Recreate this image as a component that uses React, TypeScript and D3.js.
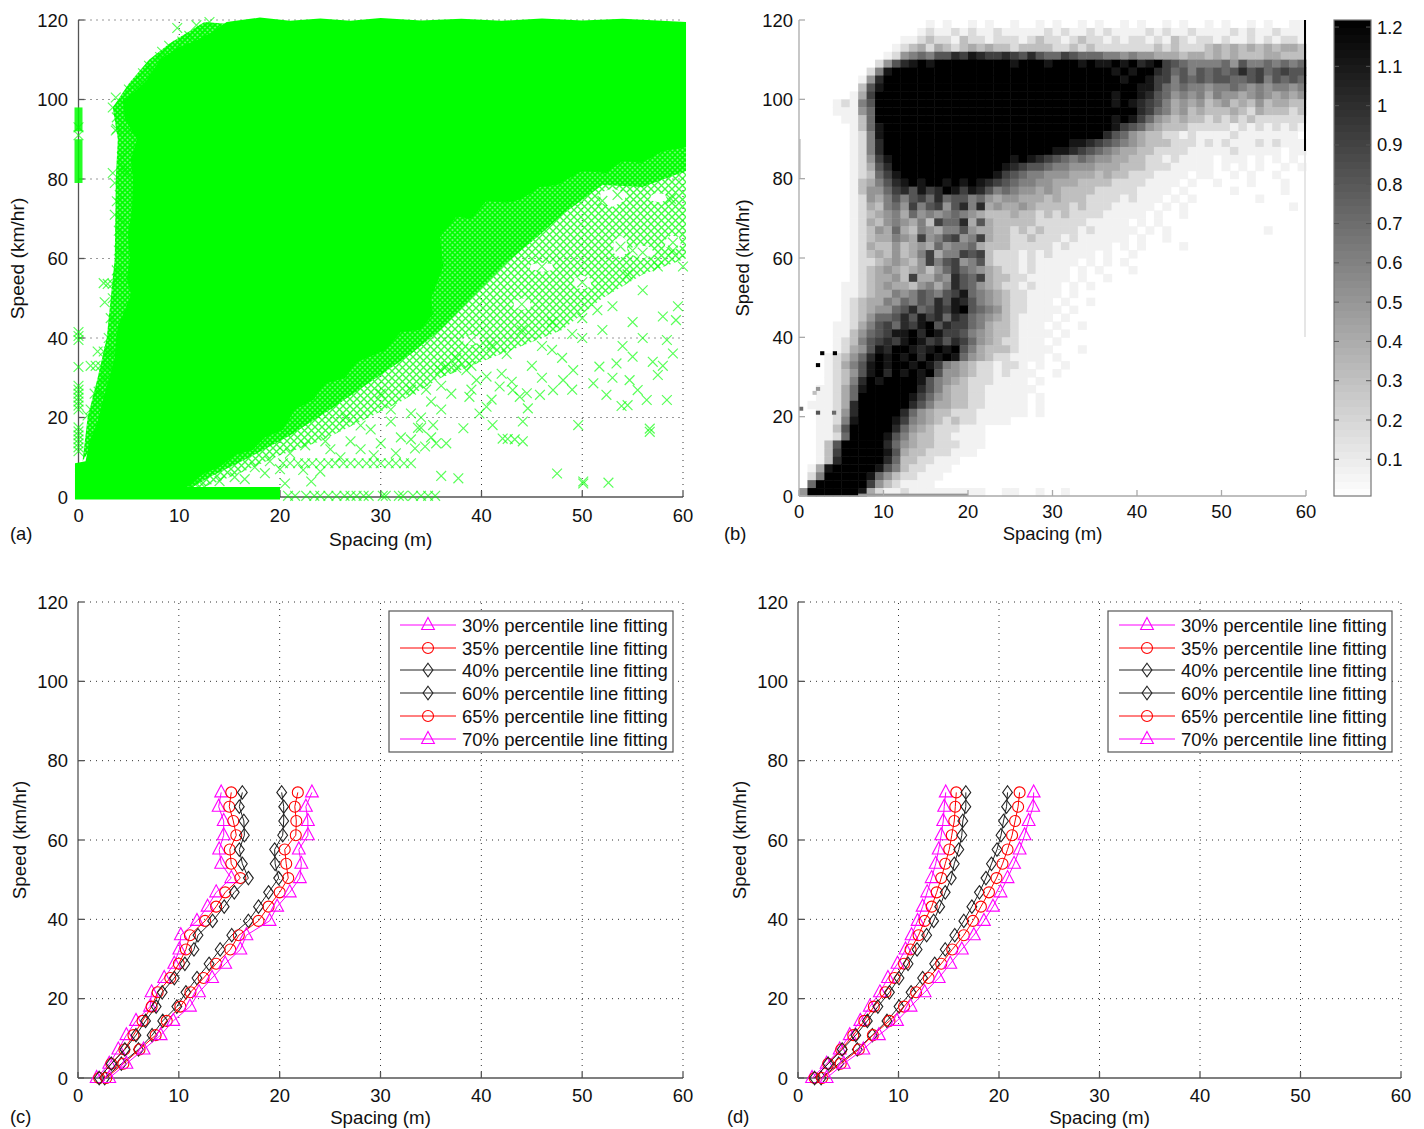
import React from "react";
import * as d3 from "d3";

// ---- data ----
const SPEEDS = [72, 68.4, 64.8, 61.2, 57.6, 54, 50.4, 46.8, 43.2, 39.6, 36, 32.4, 28.8, 25.2, 21.6, 18, 14.4, 10.8, 7.2, 3.6, 0];
const X_TICKS = [0, 10, 20, 30, 40, 50, 60];
const Y_TICKS = [0, 20, 40, 60, 80, 100, 120];
const LEGEND_LABELS = ["30%", "35%", "40%", "60%", "65%", "70%"];
const CBAR_TICKS = [1.2, 1.1, 1, 0.9, 0.8, 0.7, 0.6, 0.5, 0.4, 0.3, 0.2, 0.1];

const C_P30 = [14.2, 13.95, 14.45, 14.45, 14.0, 14.2, 15.2, 13.7, 12.85, 11.8, 10.2, 10.05, 9.55, 8.55, 7.3, 7.15, 5.75, 4.8, 4.0, 3.1, 1.85];
const C_P35 = [15.2, 15.0, 15.4, 15.7, 15.05, 15.2, 16.1, 14.6, 13.7, 12.6, 11.1, 10.7, 10.0, 9.15, 7.9, 7.3, 6.4, 5.5, 4.6, 3.3, 2.1];
const C_P40 = [16.3, 16.0, 16.45, 16.5, 16.0, 16.3, 16.9, 15.5, 14.5, 13.35, 11.9, 11.5, 10.6, 9.55, 8.35, 7.75, 6.7, 5.75, 4.65, 3.3, 2.1];
const C_P60 = [20.2, 20.4, 20.4, 20.3, 19.5, 19.55, 19.9, 18.9, 17.9, 16.9, 15.25, 14.1, 13.0, 11.8, 10.7, 9.8, 8.4, 7.35, 6.0, 4.3, 2.65];
const C_P65 = [21.8, 21.5, 21.65, 21.6, 20.5, 20.65, 20.85, 20.0, 18.9, 17.9, 15.95, 15.1, 13.7, 12.45, 11.15, 10.15, 8.8, 7.7, 6.1, 4.5, 2.8];
const C_P70 = [23.2, 22.6, 22.8, 22.8, 21.9, 22.15, 22.0, 21.0, 19.75, 19.0, 16.7, 16.1, 14.6, 13.3, 12.0, 11.1, 9.45, 8.2, 6.5, 4.8, 3.1];

const D_P30 = [14.7, 14.55, 14.45, 14.25, 14.0, 13.7, 13.3, 12.85, 12.4, 11.9, 11.3, 10.7, 9.9, 8.95, 8.15, 7.15, 6.2, 5.15, 4.15, 2.85, 1.4];
const D_P35 = [15.75, 15.65, 15.55, 15.3, 15.05, 14.65, 14.25, 13.8, 13.3, 12.6, 12.0, 11.2, 10.55, 9.6, 8.7, 7.55, 6.6, 5.5, 4.3, 3.0, 1.65];
const D_P40 = [16.7, 16.7, 16.4, 16.3, 16.0, 15.55, 15.25, 14.65, 14.1, 13.5, 12.8, 11.85, 10.95, 10.05, 9.1, 7.95, 6.9, 5.75, 4.4, 3.0, 1.65];
const D_P60 = [20.85, 20.75, 20.45, 20.2, 19.8, 19.25, 18.7, 18.05, 17.3, 16.5, 15.6, 14.65, 13.6, 12.4, 11.25, 10.05, 8.85, 7.4, 5.9, 4.05, 2.3];
const D_P65 = [22.05, 21.9, 21.6, 21.3, 20.85, 20.35, 19.75, 19.0, 18.2, 17.4, 16.5, 15.35, 14.25, 13.0, 11.75, 10.55, 9.1, 7.45, 6.05, 4.25, 2.4];
const D_P70 = [23.45, 23.4, 22.95, 22.55, 22.05, 21.5, 20.85, 20.15, 19.4, 18.5, 17.5, 16.3, 15.15, 14.0, 12.6, 11.2, 9.85, 8.05, 6.5, 4.55, 2.85];

// scatter (a): saturated mass, hatched bands, then the loose points
const MASS_OUTLINE = [[-0.35, -0.6], [-0.35, 8.5], [0.7, 9], [1.1, 14], [1.9, 19], [2.4, 24], [2.9, 28.7], [3.6, 35], [3.7, 39], [3.9, 43], [4.6, 47], [5.2, 51], [4.8, 55], [5.1, 60], [4.9, 66], [5.3, 72], [5.4, 80], [5.2, 85], [5.8, 90], [4.6, 95], [4.4, 100], [5.6, 102], [6.8, 105], [8.1, 110], [9.8, 113], [11.6, 114.8], [13.3, 117], [14.7, 119.5], [18, 120.6], [21, 119.8], [24, 120.4], [27, 119.8], [30, 120.5], [34, 119.9], [38, 120.3], [42, 119.8], [46, 120.4], [50, 119.9], [54, 120.3], [60.3, 119.5], [60.3, 88], [58, 87], [55.9, 84], [54, 84.5], [52.4, 81.5], [50, 82], [47.5, 78.5], [45.8, 78], [44, 75], [42.5, 74], [40.5, 74.5], [39, 70], [37.5, 70.5], [35.9, 65.4], [36.2, 58], [35, 50], [35.2, 46], [33.9, 42], [32, 41.5], [30.5, 37], [27.6, 33.9], [26.5, 30], [24.5, 28.5], [23.3, 24.4], [21.5, 22], [20.3, 16.9], [18.5, 15], [17.3, 11.8], [15.5, 10.5], [14, 7.5], [12.5, 6], [10.8, 2.5], [20, 2.5], [20, -0.6]];
const DENSE_BAND = [[60.3, 90], [60.3, 82], [56, 78], [52, 78.5], [48, 71], [45.8, 66], [42.5, 59], [39.1, 50.3], [35.9, 42], [33, 36], [29, 29], [25, 22], [21, 15.5], [17, 10], [13, 5], [11, 2], [10, 8], [25, 45], [30, 50], [40, 85], [50, 95]];
const SPARSE_BAND = [[60.3, 90], [60.3, 60], [56, 56], [52, 50], [48, 42], [44, 38], [40, 34], [36, 30], [32, 24], [28, 19], [24, 14], [20, 10.5], [16, 6], [13, 3], [11, 1.5], [10, 8], [25, 45], [45, 85]];
const LEFT_BAND = [[0.4, 9], [0.9, 20], [1.9, 30], [2.8, 40], [3.2, 50], [3.6, 60], [3.7, 80], [3.9, 90], [3.4, 98], [5, 104], [7, 110], [9, 114], [12.5, 119.5], [15, 119], [15, 100], [8, 40]];
const SPARSE_GAPS = [
  [[51.8, 74], [53, 73], [54.2, 74.5], [54.4, 76.5], [53, 77.6], [51.8, 76.6]],
  [[54.8, 61], [56, 60], [57.2, 61], [56.8, 62.8], [55.6, 63.4], [54.6, 62.4]],
  [[44.8, 57.4], [46, 56.6], [47.2, 57.2], [47, 58.6], [45.8, 59], [44.9, 58.4]],
  [[56.8, 74.6], [57.8, 74], [58.4, 75], [58.2, 76.2], [57.3, 76.5], [56.8, 75.8]],
  [[58.2, 63], [59.2, 62.2], [59.8, 63.4], [59.6, 65.4], [58.8, 65.8], [58.3, 64.8]],
  [[43.2, 47.8], [44, 47], [44.9, 47.8], [44.8, 49.4], [44, 50], [43.2, 49.2]],
  [[49.2, 53], [50, 52.2], [50.9, 53], [50.8, 55], [50, 55.8], [49.2, 55]],
  [[38.2, 38.8], [39, 38.2], [39.9, 39], [39.7, 40.4], [38.9, 40.8], [38.2, 40]],
  [[53.1, 61.4], [53.8, 60.2], [54.5, 61.6], [54.4, 64.6], [53.8, 65.8], [53.1, 64.4]],
];
const LOOSE_POINTS = [
  [58.4, 24.4], [56.7, 16.4], [56.7, 17.2], [54.5, 23.1], [53.9, 22.9], [55.5, 26.9], [57.5, 30.7], [56.4, 24.4], [54.7, 29.4], [52.4, 25.7], [51.1, 28.6], [49.6, 18.1],
  [52.6, 3.6], [50.1, 3.4], [50.1, 3.9], [47.5, 5.9], [44.1, 19], [44.1, 14], [43.3, 14.5], [42.6, 14.6], [42.1, 14.7], [41.1, 18.1], [37.7, 4.7], [36, 5.3], [35.5, 13.5],
  [33.7, 17.4], [34, 17.4], [44.6, 22.3], [43.8, 25.2], [40.5, 22.7], [39.8, 21], [38.8, 25.2], [36.5, 13.5], [38.2, 17.3], [35.2, 18.1], [33.4, 12.2], [34.4, 12.7], [23.1, 3.9], [24, 6.4], [20.5, 3.4], [22.3, 6.8],
  [58.4, 39.5], [59, 36.1], [59.3, 44.5], [58, 45.4], [55, 35.3], [53.4, 33.6], [51.7, 32.8], [49.1, 31.9], [48.1, 29.4], [47.1, 26.9], [45.8, 25.7], [44.5, 26.1], [43.1, 26.9], [41.8, 27.8], [40.5, 30.3], [39.5, 29.4], [38.5, 31.9], [37.5, 32.4], [36.5, 32.8], [35.9, 31.9],
  [50, 40], [52, 42], [54, 38], [56, 40], [47, 37], [45, 33], [42, 31], [57, 34], [59.5, 48], [55, 44], [48, 35], [46, 30], [43, 29], [53, 30], [58, 33], [49, 27], [41, 24.5], [39, 27], [37, 26], [35, 24], [33, 21], [31, 19], [29, 17], [27, 14], [25, 12], [36, 22], [34, 20], [32, 15], [30, 13.5], [28, 12], [26, 10], [35, 15], [31.5, 11], [29.3, 10.5], [33, 14.5],
  [60, 58], [59, 62], [57.5, 58], [56, 52], [54.5, 56], [53, 48], [51.5, 47], [50, 45], [49, 41], [47, 44], [46, 38], [44, 42], [42.5, 36], [41, 38], [39, 33], [37.5, 35], [36, 28], [34.5, 27], [33, 27], [31, 22], [30, 26], [28, 18], [26.5, 20], [24.5, 14], [22.5, 13], [21, 11], [19, 9], [17.5, 7.5], [15.5, 5], [14, 4], [12.5, 2.5], [11.5, 3.4], [16.5, 4.5], [18.5, 6], [20, 7],
  [52, 74.5], [53.5, 76], [55, 62], [56, 61.5], [46, 58], [58.8, 75], [59, 64], [44, 48.5], [50, 54], [39, 39.5], [53.8, 63],
  [2.9, 35], [3, 40], [3.2, 45], [3.4, 50], [3.9, 55], [4, 62], [4.2, 70], [4.1, 76], [4.5, 83], [4.9, 92], [3.7, 100.5], [5, 102.5], [6, 104], [7, 108.5], [9, 113.5], [11, 116], [12.5, 117.5], [1.5, 15], [1.4, 12.5], [2.2, 22], [2.6, 30],
  [3.4, 98], [3.8, 95.5], [3.8, 92.6], [3.7, 92.2], [4.3, 85.6], [5.2, 88.5], [3.4, 81.5], [3.6, 79], [4.7, 81.5], [3.8, 74.4], [3.6, 71], [4, 67], [3.8, 57], [2.9, 53.6], [2.5, 53.8], [3.4, 53.6], [2.6, 49],
  [1.9, 36.6], [2.5, 36.6], [3, 36.6], [3.5, 36.6], [1.2, 33], [1.7, 33], [2.2, 33], [2.8, 33], [3.3, 33], [1.6, 26], [2, 26.5], [2.5, 25.5], [1.2, 22], [0.9, 20.5], [1.9, 24], [3, 28],
  [9.8, 118], [11.7, 118.7], [13, 119.5], [12.1, 116.2], [12.8, 115], [10.3, 114.6], [8.1, 110.7], [6.4, 106.6], [7.3, 107.2], [8.3, 112],
];
const ROW_8_X = [20.3, 21, 21.8, 22.5, 23.2, 24, 24.8, 25.5, 26.3, 27, 27.8, 28.6, 29.3, 30, 30.8, 31.5, 32.3, 33];
const ROW_0_X = [20.8, 21.5, 22.6, 23.4, 24, 24.8, 25.6, 26.4, 27, 27.6, 28.3, 28.8, 30.2, 30.5, 31.8, 32.2, 33.2, 34, 34.7, 35.4];
const COL_0_V = [93, 91, 41.5, 40.5, 39.5, 32.7, 28, 27, 26, 25, 24, 23, 22, 17.5, 16.5, 15.5, 14.5, 13.5, 12.5, 11.5];
const COL_0_BARS = [[79, 90], [92, 98]];

// density (b): one char per 1 m x 2 km/h bin, first row is 118-120 km/h, LEVELS gives the value
const LEVELS = [0, 0.06, 0.17, 0.3, 0.4, 0.5, 0.6, 0.7, 0.8, 0.9, 1, 1.1, 1.2];
const DENSITY_ROWS = [
  "000000000000 000101001010 010010100101 001010010100 101001010011",
  "000000000000 001211212112 111112121121 211112121121 111212112111",
  "000000000000 112322132212 221232212322 121221213212 212112121221",
  "000000000001 234243234343 323333223232 222222323222 343434343443",
  "000000000012 567688a9ba99 a98a87798777 665655444344 343433344333",
  "000000000258 abcbcccccccc cbcccbcccbcb bcbcabc98766 667586676767",
  "0000000026bc cccccccccccc cccccccccccc cbcbcca97868 7878a8978988",
  "000000015acc cccccccccccc cccccccccccc ccbccb996878 788778968787",
  "000000038bcc cccccccccccc cccccccccccc ccccbb976766 566765656656",
  "000000149ccc cccccccccccc cccccccccccc cbccba875656 465545654545",
  "000012168ccc cccccccccccc cccccccccccc cbcba9864545 345343534433",
  "000011157ccc cccccccccccc cccccccccccc cccca9764534 333432433323",
  "000001137ccc cccccccccccc cccccccccccc cbcb97543433 232323222222",
  "000000137bcc cccccccccccc cccccccccccc cb9875433322 222121212121",
  "000000126bcc cccccccccccc cccccccccccc a87543322121 111211111110",
  "000000126acc cccccccccccc ccccccccbba9 876543332221 212111212111",
  "000000126acc cccccccccccc ccccccbba987 654433222211 111211111011",
  "0000001259bc cccccccccccc cbcba9876765 544332212111 101110101010",
  "0000001248ac cccccccccccc ba9887665554 443332221111 101010100101",
  "00000012379b cccccccccccb 987665554443 433222111101 100101001000",
  "00000013468a bcbccbcbcba9 876655444333 322221111010 010001000100",
  "000000135579 a8b9acb9ba86 765545433332 222211110100 000100000100",
  "000000125468 6897a7886754 554443433322 221211101010 000000100000",
  "000000124367 5968958a6a45 445433332322 211111010100 000000000010",
  "000000123456 475656765433 343323232222 111110100100 000000000000",
  "000000124356 5463977a4843 333322222211 111010100000 000000000000",
  "000000123547 436546685443 323232222121 111101010000 000000010000",
  "000000123446 549568956943 322322212111 111010010000 000000000000",
  "000000124335 345475667433 322222121111 101010000100 000000000000",
  "000000123435 346946698932 221212111110 100100000000 000000000000",
  "000000122345 435968956832 221211111010 101000000000 000000000000",
  "000000123454 345357976543 221211110101 000100000000 000000000000",
  "000000123445 394465a87943 322111110100 100000000000 000000000000",
  "000001123454 435646a87543 221211101010 000000000000 000000000000",
  "000001123446 5687689b7654 322111101000 000000000000 000000000000",
  "000001234465 7687a8ba8654 322111010010 000000000000 000000000000",
  "000001234557 8a78a9bc8765 322111101000 000000000000 000000000000",
  "000001235778 a8b9a7a97654 321111010000 000000000000 000000000000",
  "000011246897 a9bc8a997643 321110100100 000000000000 000000000000",
  "00001135789b bcacb9986543 321111010000 000000000000 000000000000",
  "0000123689a9 bcb9a8a97543 221110100000 000000000000 000000000000",
  "000012458bac cbabcbc86433 321111000100 000000000000 000000000000",
  "00012357acbc bcacbcb75432 211110100000 000000000000 000000000000",
  "00012468bcbc cbcb96543221 221010010000 000000000000 000000000000",
  "00012358bcac bcbc85543221 211100100000 000000000000 000000000000",
  "0001236acbcc ccb865432221 111010000000 000000000000 000000000000",
  "0011247bcccc cca864332211 111100000000 000000000000 000000000000",
  "0011247ccccc cb9754332211 111010000000 000000000000 000000000000",
  "011124accccc ca8644332211 111010000000 000000000000 000000000000",
  "001125accccc a75433222111 111010000000 000000000000 000000000000",
  "001126bccccb 965432322111 100000000000 000000000000 000000000000",
  "001138ccccca 754322211100 000000000000 000000000000 000000000000",
  "001127ccccb8 643322111100 000000000000 000000000000 000000000000",
  "00138ccccca7 543322211100 000000000000 000000000000 000000000000",
  "00139cccccb8 433222111000 000000000000 000000000000 000000000000",
  "0013accccca7 332211100000 000000000000 000000000000 000000000000",
  "014bcccccb86 322111000000 000000000000 000000000000 000000000000",
  "026cccccb753 221110000000 000000000000 000000000000 000000000000",
  "07cccccc9532 111100000000 000000000000 000000000000 000000000000",
  "5ccccccb4211 211111111100 110010010000 000000000000 000000000000",
];
const HOT_BINS = [[2.5, 36, 1.2], [4, 36, 1.2], [2, 33, 1.2], [2, 21, 0.8], [3.9, 21, 0.7], [0, 22, 0.7], [2, 27, 0.5], [1.6, 26, 0.3]];

// ---- layout ----
const PANELS = {
  a: { x: [78.5, 683], y: [497, 20] },
  b: { x: [799, 1306], y: [496, 20] },
  c: { x: [78, 683], y: [1078, 602] },
  d: { x: [798, 1401], y: [1078, 602] },
};
const FONT = "'Liberation Sans', Arial, sans-serif";
const INK = "#111";
const GREEN = "#00ff00";

const grey = d3.scaleLinear<string>().domain([0, 1.2]).range(["#ffffff", "#000000"]).clamp(true);

function scalesFor(p: { x: number[]; y: number[] }) {
  return {
    x: d3.scaleLinear().domain([0, 60]).range(p.x),
    y: d3.scaleLinear().domain([0, 120]).range(p.y),
  };
}

function Axes({ panel, grid, axisColor, tag, tagPos, xLabelY, yLabelX, yTickX, xTickY, labelSize }: any) {
  const { x, y } = scalesFor(panel);
  const [x0, x1] = x.range();
  const [y0, y1] = y.range();
  const midX = (x0 + x1) / 2;
  const midY = (y0 + y1) / 2;
  return (
    <g fontFamily={FONT} fill={INK}>
      {grid && (
        <g stroke="#333" strokeWidth={1} strokeDasharray="1 5">
          {X_TICKS.slice(1).map((t) => <line key={t} x1={x(t)} x2={x(t)} y1={y0} y2={y1} />)}
          {Y_TICKS.slice(1).map((t) => <line key={t} x1={x0} x2={x1} y1={y(t)} y2={y(t)} />)}
        </g>
      )}
      <g stroke={axisColor} strokeWidth={1.3} fill="none">
        <line x1={x0} x2={x0} y1={y0} y2={y1} />
        <line x1={x0} x2={x1} y1={y0} y2={y0} />
        {X_TICKS.map((t) => <line key={t} x1={x(t)} x2={x(t)} y1={y0} y2={y0 - 6} />)}
        {Y_TICKS.map((t) => <line key={t} x1={x0} x2={x0 + 6} y1={y(t)} y2={y(t)} />)}
      </g>
      <g fontSize={18.4}>
        {X_TICKS.map((t) => <text key={t} x={x(t)} y={xTickY} textAnchor="middle">{t}</text>)}
        {Y_TICKS.map((t) => <text key={t} x={yTickX} y={y(t) + 6.5} textAnchor="end">{t}</text>)}
        <text x={tagPos[0]} y={tagPos[1]}>{tag}</text>
      </g>
      <g fontSize={labelSize}>
        <text x={midX} y={xLabelY} textAnchor="middle">Spacing (m)</text>
        <text transform={`translate(${yLabelX},${midY}) rotate(-90)`} textAnchor="middle">Speed (km/hr)</text>
      </g>
    </g>
  );
}

function Cross({ cx, cy }: { cx: number; cy: number }) {
  const s = 4.9;
  return <path d={`M${cx - s},${cy - s}L${cx + s},${cy + s}M${cx - s},${cy + s}L${cx + s},${cy - s}`} />;
}

function ScatterPanel() {
  const { x, y } = scalesFor(PANELS.a);
  const ring = d3.line<number[]>().x((d) => x(d[0])).y((d) => y(d[1]));
  const closed = (pts: number[][]) => ring(pts) + "Z";
  const sparsePath = [SPARSE_BAND, ...SPARSE_GAPS].map(closed).join("");
  const loose = [
    ...LOOSE_POINTS,
    ...ROW_8_X.map((v) => [v, 8.5]),
    ...ROW_0_X.map((v) => [v, 0.3]),
    ...COL_0_V.map((v) => [0, v]),
  ];
  return (
    <g>
      <defs>
        <pattern id="hatchSparse" width={7} height={7} patternUnits="userSpaceOnUse">
          <path d="M0,0L7,7M0,7L7,0" stroke={GREEN} strokeWidth={1.4} strokeOpacity={0.75} fill="none" />
        </pattern>
        <pattern id="hatchDense" width={5} height={5} patternUnits="userSpaceOnUse">
          <rect width={5} height={5} fill="#6dff6d" />
          <path d="M0,0L5,5M0,5L5,0" stroke={GREEN} strokeWidth={1.6} fill="none" />
        </pattern>
      </defs>
      <Axes panel={PANELS.a} grid axisColor="#555" tag="(a)" tagPos={[10, 540]} xLabelY={546} yLabelX={24} yTickX={68} xTickY={522} labelSize={19.2} />
      <path d={sparsePath} fill="url(#hatchSparse)" fillRule="evenodd" />
      <path d={closed(LEFT_BAND)} fill="url(#hatchDense)" />
      <path d={closed(DENSE_BAND)} fill="url(#hatchDense)" />
      <path d={closed(MASS_OUTLINE)} fill={GREEN} />
      {COL_0_BARS.map((b) => (
        <rect key={b[0]} x={x(0) - 4} y={y(b[1])} width={8} height={y(b[0]) - y(b[1])} fill={GREEN} fillOpacity={0.85} />
      ))}
      <g stroke={GREEN} strokeWidth={1.2} strokeOpacity={0.65} fill="none">
        {loose.map((d, i) => <Cross key={i} cx={x(d[0])} cy={y(d[1])} />)}
      </g>
    </g>
  );
}

function DensityPanel() {
  const { x, y } = scalesFor(PANELS.b);
  const rows = DENSITY_ROWS.map((r) => r.replace(/ /g, ""));
  const cw = x(1) - x(0);
  const ch = y(0) - y(2);
  return (
    <g>
      <defs>
        <filter id="soft" x="-2%" y="-2%" width="104%" height="104%">
          <feGaussianBlur stdDeviation={0.6} />
        </filter>
      </defs>
      <g filter="url(#soft)">
        {rows.map((row, r) =>
          row.split("").map((c, col) => {
            const value = LEVELS[parseInt(c, 16)];
            if (value === 0 || col > 59) return null;
            return <rect key={`${r}-${col}`} x={x(col)} y={y(120 - 2 * r)} width={cw + 0.5} height={ch + 0.5} fill={grey(value)} />;
          })
        )}
        {HOT_BINS.map((d, i) => (
          <rect key={i} x={x(d[0])} y={y(d[1] + 0.5)} width={x(0.5) - x(0)} height={y(0) - y(1)} fill={grey(d[2])} />
        ))}
        <rect x={x(0)} y={y(90)} width={2} height={y(80) - y(90)} fill={grey(0.2)} />
        <rect x={x(7)} y={y(0.6)} width={x(20) - x(7)} height={y(0) - y(0.6)} fill={grey(0.5)} />
      </g>
      <g shapeRendering="crispEdges">
        <rect x={x(60) - 2} y={y(120)} width={2} height={y(87) - y(120)} fill={grey(1.2)} />
        <rect x={x(60) - 2} y={y(87)} width={2} height={y(40) - y(87)} fill={grey(0.12)} />
      </g>
      <Axes panel={PANELS.b} axisColor="#aaa" tag="(b)" tagPos={[724, 540]} xLabelY={540} yLabelX={749} yTickX={793} xTickY={518} labelSize={18.5} />
    </g>
  );
}

function Colorbar() {
  const top = 20;
  const bottom = 496;
  const left = 1334;
  const right = 1371;
  const scale = d3.scaleLinear().domain([0.0066, 1.218]).range([bottom, top]);
  const steps = d3.range(64);
  const h = (bottom - top) / 64;
  return (
    <g fontFamily={FONT} fontSize={18.4} fill={INK}>
      <g shapeRendering="crispEdges">
        {steps.map((i) => (
          <rect key={i} x={left} y={bottom - (i + 1) * h} width={right - left} height={h + 0.5} fill={grey(((i + 0.5) / 64) * 1.2)} />
        ))}
      </g>
      <rect x={left} y={top} width={right - left} height={bottom - top} fill="none" stroke="#777" strokeWidth={1.2} />
      {CBAR_TICKS.map((t) => (
        <g key={t}>
          <line x1={left} x2={left + 5} y1={scale(t)} y2={scale(t)} stroke="#555" />
          <line x1={right - 5} x2={right} y1={scale(t)} y2={scale(t)} stroke="#555" />
          <text x={1377} y={scale(t) + 6.5}>{t}</text>
        </g>
      ))}
    </g>
  );
}

const COLORS = ["#ff00ff", "#ff0000", "#222222", "#222222", "#ff0000", "#ff00ff"];
const SHAPES = ["tri", "circle", "diamond", "diamond", "circle", "tri"];

function Marker({ kind, cx, cy, color }: any) {
  if (kind === "circle") return <circle cx={cx} cy={cy} r={5.5} fill="none" stroke={color} strokeWidth={1.1} />;
  const d = kind === "tri" ? "M0,-7.5L6.4,4.5L-6.4,4.5Z" : "M0,-6.7L4.9,0L0,6.7L-4.9,0Z";
  return <path transform={`translate(${cx},${cy})`} d={d} fill="none" stroke={color} strokeWidth={1.1} />;
}

function FitPanel({ panel, series, tag, tagPos, xLabelY, yLabelX, yTickX, xTickY, legendX }: any) {
  const { x, y } = scalesFor(panel);
  const line = d3.line<number>().x((d) => x(d)).y((_, i) => y(SPEEDS[i]));
  const rowY = [625, 648, 670, 693, 716, 739];
  return (
    <g>
      <Axes panel={panel} grid axisColor="#555" tag={tag} tagPos={tagPos} xLabelY={xLabelY} yLabelX={yLabelX} yTickX={yTickX} xTickY={xTickY} labelSize={18.7} />
      {series.map((vals: number[], s: number) => (
        <g key={s}>
          <path d={line(vals) || ""} fill="none" stroke={COLORS[s]} strokeWidth={1} />
          {vals.map((v, i) => <Marker key={i} kind={SHAPES[s]} cx={x(v)} cy={y(SPEEDS[i])} color={COLORS[s]} />)}
        </g>
      ))}
      <g fontFamily={FONT}>
        <rect x={legendX} y={611} width={284} height={141} fill="#fff" stroke="#555" strokeWidth={1.2} />
        {LEGEND_LABELS.map((l, i) => (
          <g key={l}>
            <line x1={legendX + 11} x2={legendX + 67} y1={rowY[i]} y2={rowY[i]} stroke={COLORS[i]} strokeWidth={1} />
            <Marker kind={SHAPES[i]} cx={legendX + 39} cy={rowY[i]} color={COLORS[i]} />
            <text x={legendX + 73} y={rowY[i] + 6.5} fontSize={18.5} fill={INK}>{l} percentile line fitting</text>
          </g>
        ))}
      </g>
    </g>
  );
}

export default function App() {
  return (
    <svg width={1424} height={1129} viewBox="0 0 1424 1129" style={{ position: "absolute", left: 0, top: 0, background: "#fff" }}>
      <ScatterPanel />
      <DensityPanel />
      <Colorbar />
      <FitPanel panel={PANELS.c} series={[C_P30, C_P35, C_P40, C_P60, C_P65, C_P70]} tag="(c)" tagPos={[10, 1123]} xLabelY={1124} yLabelX={26} yTickX={68} xTickY={1102} legendX={389} />
      <FitPanel panel={PANELS.d} series={[D_P30, D_P35, D_P40, D_P60, D_P65, D_P70]} tag="(d)" tagPos={[727, 1123]} xLabelY={1124} yLabelX={746} yTickX={788} xTickY={1102} legendX={1108} />
    </svg>
  );
}
